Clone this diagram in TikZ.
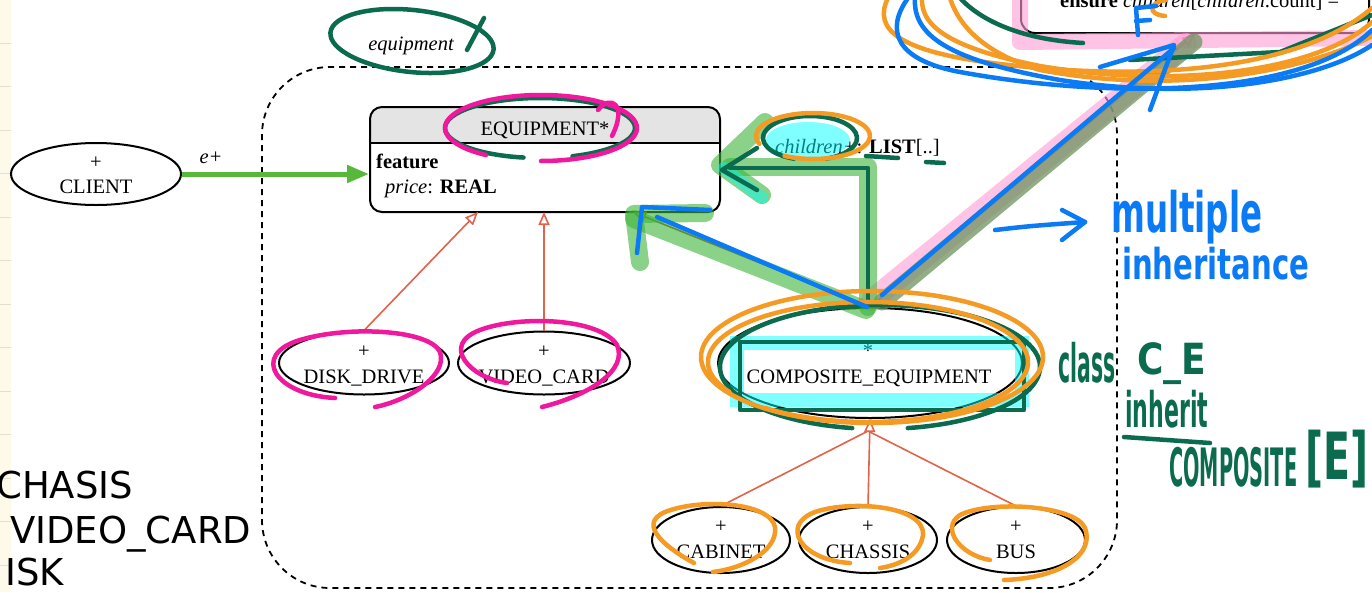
\documentclass[tikz,border=0pt]{standalone}
\usepackage{fontspec}
\usepackage{graphicx}
\setmainfont{Liberation Serif}
\newfontfamily\listfont{DejaVu Sans}
\newfontfamily\penfont{DejaVu Sans}
\usetikzlibrary{shapes.geometric,arrows.meta}

\definecolor{inhred}{HTML}{E0634A}
\definecolor{inhbrown}{HTML}{9C4A33}
\definecolor{clientgreen}{HTML}{58B83C}
\definecolor{hdrgray}{HTML}{E4E4E4}
\definecolor{penblue}{HTML}{0A7BF5}
\definecolor{pengreen}{HTML}{0B6B4E}
\definecolor{penmagenta}{HTML}{F0189C}
\definecolor{penorange}{HTML}{F59A23}
\definecolor{hlgreen}{HTML}{3DB53A}
\definecolor{hlolive}{HTML}{6E9460}
\definecolor{hlcyan}{HTML}{00FFFF}
\definecolor{hlpink}{HTML}{FF9BD6}
\definecolor{strip}{HTML}{FDFAEA}
\definecolor{stripline}{HTML}{E4E0D0}

\tikzset{
  txt/.style={inner sep=0pt, font=\fontsize{20.5}{24}\selectfont},
  clsell/.style={ellipse, draw, line width=2pt, inner sep=0pt},
  inh/.style={draw=inhred, line width=1.6pt, -{Triangle[open, length=13pt, width=11pt, fill=white]}},
  inhline/.style={draw=inhred, line width=1.6pt},
  pen/.style={line width=4.5pt, line cap=round, line join=round},
  hl/.style={line width=18pt, line cap=round, line join=round, draw opacity=0.6},
  handtxt/.style={inner sep=0pt, font=\penfont\bfseries},
}

\begin{document}
\begin{tikzpicture}[x=1pt,y=-1pt]
\useasboundingbox (0,0) rectangle (1372,592);
\clip (0,0) rectangle (1372,592);
\fill[white] (0,0) rectangle (1372,592);

% ruled margin strip on the left
\fill[strip] (0,0) rectangle (11,592);
\foreach \yy in {43,86.5,130,173.5,217,260.5,304,347.5,391,434.5,478,521.5,565}
  \draw[stripline, line width=1pt] (0,\yy) -- (11,\yy);

% list text on the left edge
\node[inner sep=0pt, anchor=base west, font=\listfont\fontsize{37}{40}\selectfont] (lst1) at (-4,498) {CHASIS};
\node[inner sep=0pt, anchor=base west, font=\listfont\fontsize{37}{40}\selectfont] (lst2) at (10,543) {VIDEO\_CARD};
\node[inner sep=0pt, anchor=base west, font=\listfont\fontsize{37}{40}\selectfont] (lst3) at (5,585) {ISK};

% cluster
\node[draw, dashed, dash pattern=on 6pt off 5pt, line width=1.8pt, rounded corners=68pt,
      minimum width=855pt, minimum height=521pt, inner sep=0pt] (cluster) at (689.5,327.5) {};
\node[txt, anchor=base] (clustername) at (411,50) {\itshape equipment};

% deferred class EQUIPMENT
\begin{scope}
  \clip (370,107) rectangle (720,143);
  \fill[hdrgray, rounded corners=12pt] (370,107) rectangle (720,212);
\end{scope}
\node[draw, line width=2pt, rounded corners=12pt, minimum width=350pt, minimum height=105pt, inner sep=0pt] (eq) at (545,159.5) {};
\draw[line width=2pt] (370,143) -- (720,143);
\node[txt, anchor=base] (eqname) at (545,135) {EQUIPMENT*};
\node[txt, anchor=base west] (eqfeat) at (376,168) {\bfseries feature};
\node[txt, anchor=base west] (eqprice) at (385,193) {\itshape price\upshape: \bfseries REAL};

% top right class
\node[draw, line width=2pt, rounded corners=14pt, minimum width=348pt, minimum height=80pt, inner sep=0pt] (cmp) at (1195,-7) {};
\node[txt, anchor=base west] (cmpens) at (1060,7) {\bfseries ensure \mdseries\itshape children\upshape[\itshape children\upshape.count] = };

% classes drawn as ovals
\node[clsell, minimum width=170pt, minimum height=62pt] (client) at (96,174) {};
\node[txt, anchor=base] (client-mark) at (96,168) {+};
\node[txt, anchor=base] (client-name) at (96,193) {CLIENT};

\node[clsell, minimum width=170pt, minimum height=63pt] (dd) at (364,363) {};
\node[txt, anchor=base] (dd-mark) at (364,357) {+};
\node[txt, anchor=base] (dd-name) at (364,383) {DISK\_DRIVE};

\node[clsell, minimum width=172pt, minimum height=63pt] (vc) at (544,363) {};
\node[txt, anchor=base] (vc-mark) at (544,357) {+};
\node[txt, anchor=base] (vc-name) at (544,383) {VIDEO\_CARD};

\node[clsell, minimum width=304pt, minimum height=110pt] (ce) at (870,363) {};
\node[txt, anchor=base] (ce-mark) at (868,357) {*};
\node[txt, anchor=base] (ce-name) at (869,383) {COMPOSITE\_EQUIPMENT};

\node[clsell, minimum width=138pt, minimum height=66pt] (cab) at (721,540) {};
\node[txt, anchor=base] (cab-mark) at (721,532) {+};
\node[txt, anchor=base] (cab-name) at (721,558) {CABINET};

\node[clsell, minimum width=138pt, minimum height=66pt] (chs) at (868,540) {};
\node[txt, anchor=base] (chs-mark) at (868,532) {+};
\node[txt, anchor=base] (chs-name) at (868,558) {CHASSIS};

\node[clsell, minimum width=138pt, minimum height=66pt] (bus) at (1016,540) {};
\node[txt, anchor=base] (bus-mark) at (1016,532) {+};
\node[txt, anchor=base] (bus-name) at (1016,558) {BUS};

% connection points
\coordinate (eq-a) at (478,212);
\coordinate (eq-b) at (544,212);
\coordinate (eq-c) at (633,212);
\coordinate (ce-base) at (868,431);

% client relation
\draw[line width=5pt, clientgreen, -{Triangle[length=22pt, width=17pt]}] (client.east) -- (eq.west |- client.east);
\node[txt, anchor=base] (elabel) at (211,163) {\itshape e+};

% inheritance
\draw[inh] (dd.north) -- (eq-a);
\draw[inh] (vc.north) -- (eq-b);
\draw[inh, draw=inhbrown] (ce.north) -- (eq-c);
\draw[inh, draw=inhbrown] (ce.north) -- (cmp.south);
\draw[inhline] (cab.north) -- (ce-base);
\draw[inhline] (bus.north) -- (ce-base);
\draw[inh] (chs.north) -- (ce.south);

\node[txt, anchor=base west] (childlabel) at (775,153) {\itshape children+\upshape: \bfseries LIST\mdseries[..]};

% ---- highlighter strokes ----
\draw[hl, hlpink, line width=16pt] (1020,-5) -- (1020,42) -- (1372,38);
\draw[hl, hlpink, line width=22pt] (872,300) -- (1186,44);
\draw[hl, hlolive, line width=17pt, draw opacity=0.75] (882,302) -- (1194,42);
\draw[hl, hlgreen] (868,307) -- (868,167) -- (730,167);
\draw[hl, hlgreen] (765,122) -- (720,165) -- (762,195);
\draw[hl, hlgreen] (640,262) -- (634,214) -- (705,213);
\draw[hl, hlgreen] (634,219) -- (866,310);
\fill[hlcyan, fill opacity=0.5] (808,140) ellipse [x radius=42, y radius=18];
\draw[hlcyan, line width=12pt, draw opacity=0.45, line cap=round] (724,168) -- (762,198);
\draw[hlcyan, line width=14pt, draw opacity=0.5] (737,343) rectangle (1022,400);

% ---- pen strokes: dark green ----
\draw[pen, pengreen, rotate around={-6:(412,41)}] (412,41) ellipse [x radius=82, y radius=31];
\draw[pen, pengreen] (484,18) -- (467,50);
\draw[pen, pengreen] ([shift={(100:95 and 30)}]540,128) arc[start angle=100, end angle=430, x radius=95, y radius=30];
\draw[pen, pengreen] ([shift={(110:47 and 22)}]810,138) arc[start angle=110, end angle=430, x radius=47, y radius=22];
\draw[pen, pengreen] (866,156) -- (898,158);
\draw[pen, pengreen] (926,162) -- (944,163);
\draw[pen, pengreen] (868,303) -- (868,168) -- (730,168);
\draw[pen, pengreen] (757,148) -- (722,170) -- (757,190);
\draw[pen, pengreen] ([shift={(100:160 and 62)}]880,367) arc[start angle=100, end angle=440, x radius=160, y radius=62];
\draw[pen, pengreen] (740,342) rectangle (1024,410);
\draw[pen, pengreen] (960,-2) .. controls (985,25) and (1030,40) .. (1083,43);
\draw[pen, pengreen] (1130,60) -- (1280,52) -- (1372,15);

% ---- pen strokes: magenta ----
\draw[pen, penmagenta] ([shift={(125:96 and 33)}]541,128) arc[start angle=125, end angle=450, x radius=96, y radius=33];
\draw[pen, penmagenta] (598,110) .. controls (610,94) and (628,104) .. (612,136);
\draw[pen, penmagenta] (335,398) .. controls (275,395) and (250,355) .. (300,340) .. controls (350,325) and (430,330) .. (440,352) .. controls (448,375) and (410,400) .. (375,407);
\draw[pen, penmagenta] (507,383) .. controls (470,378) and (440,345) .. (480,330) .. controls (520,315) and (600,318) .. (617,345) .. controls (628,370) and (590,395) .. (542,407);

% ---- pen strokes: orange ----
\draw[pen, penorange] ([shift={(160:57 and 23)}]813,136) arc[start angle=160, end angle=480, x radius=57, y radius=23];
\draw[pen, penorange] (872,357) ellipse [x radius=171, y radius=66];
\draw[pen, penorange] ([shift={(150:160 and 60)}]868,362) arc[start angle=150, end angle=490, x radius=160, y radius=60];
\draw[pen, penorange] (694,563) .. controls (670,550) and (635,525) .. (665,512) .. controls (700,498) and (770,502) .. (775,527) .. controls (778,550) and (745,568) .. (713,572);
\draw[pen, penorange] (850,563) .. controls (800,560) and (780,525) .. (815,512) .. controls (850,500) and (925,505) .. (923,535) .. controls (920,555) and (900,565) .. (880,568);
\draw[pen, penorange] (1004,580) .. controls (1060,578) and (1095,555) .. (1085,528) .. controls (1075,505) and (990,500) .. (960,515) .. controls (940,528) and (960,555) .. (990,560);
\draw[pen, penorange] (888,-2) .. controls (872,30) and (900,52) .. (1000,64) .. controls (1150,82) and (1300,70) .. (1372,8);
\draw[pen, penorange] (922,-2) .. controls (920,30) and (960,50) .. (1040,66) .. controls (1180,90) and (1320,70) .. (1372,22);
\draw[pen, penorange] (950,-2) .. controls (960,30) and (990,55) .. (1040,70) .. controls (1200,100) and (1330,60) .. (1372,36);
\draw[pen, penorange] (1166,0) .. controls (1150,2) and (1146,14) .. (1165,16);

% ---- pen strokes: blue ----
\draw[pen, penblue] (867,307) -- (657,217);
\draw[pen, penblue] (710,210) -- (642,207) -- (637,253);
\draw[pen, penblue] (882,295) -- (1174,48);
\draw[pen, penblue] (1100,67) -- (1174,45) -- (1150,110);
\draw[pen, penblue] (1138,35) -- (1136,8) -- (1156,6);
\draw[pen, penblue] (1136,21) -- (1150,20);
\draw[pen, penblue] (908,-2) .. controls (885,30) and (895,60) .. (960,72) .. controls (1100,98) and (1300,100) .. (1372,30);
\draw[pen, penblue] (915,-2) .. controls (912,40) and (960,62) .. (1060,80) .. controls (1200,102) and (1320,80) .. (1372,45);
\draw[pen, penblue] (995,230) .. controls (1030,226) .. (1085,222);
\draw[pen, penblue] (1062,210) -- (1085,222) -- (1062,240);

% handwritten notes
\node[handtxt, text=penblue, anchor=north west] (noteA) at (1111,190) {\resizebox*{151pt}{54pt}{multiple}};
\node[handtxt, text=penblue, anchor=north west] (noteB) at (1122,247) {\resizebox*{187pt}{33pt}{inheritance}};
\node[handtxt, text=pengreen, anchor=north west] (noteC) at (1058,342) {\resizebox*{57pt}{41pt}{class}};
\node[handtxt, text=pengreen, anchor=north west] (noteD) at (1137,342) {\resizebox*{69pt}{42pt}{C\_E}};
\node[handtxt, text=pengreen, anchor=north west] (noteE) at (1125,390) {\resizebox*{83pt}{38pt}{inherit}};
\draw[pen, pengreen] (1124,437) -- (1210,443);
\node[handtxt, text=pengreen, anchor=north west] (noteF) at (1169,447) {\resizebox*{128pt}{40pt}{COMPOSITE}};
\node[handtxt, text=pengreen, anchor=north west] (noteG) at (1305,430) {\resizebox*{63pt}{58pt}{[E]}};
\end{tikzpicture}
\end{document}
